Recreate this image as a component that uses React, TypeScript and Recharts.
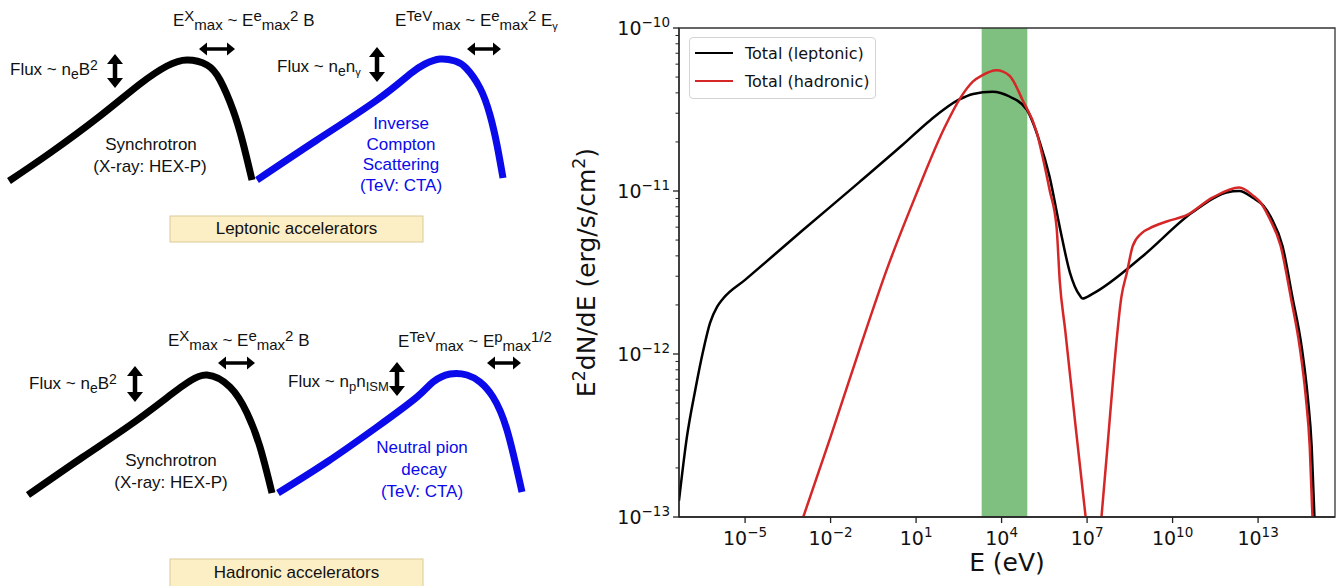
import React from 'react';
import { LineChart, Line, XAxis, YAxis, ReferenceArea, Legend, Label } from 'recharts';

// ---------- right panel: total SEDs, E (eV) vs E^2 dN/dE (erg/s/cm^2) ----------
const leptonicE = [
  4.8e-8, 9.1e-8, 1.78e-7, 3.4e-7, 5.9e-7, 1.05e-6, 1.7e-6, 1e-5, 1e-3, 0.1, 3.16, 31.6, 316, 1000,
  4800, 1.9e4, 7.6e4, 2.1e5, 4.8e5, 1.1e6, 2.5e6, 5.5e6, 6.9e6, 1.55e7, 8.9e8, 5.0e10, 7.8e11, 2.2e12,
  6.5e12, 1.55e13, 2.95e13, 7.2e13, 1.6e14, 3.4e14, 5.5e14, 7.6e14, 9.5e14,
];
const leptonicFlux = [
  1.26e-13, 3.1e-13, 6.0e-13, 1.05e-12, 1.55e-12, 1.95e-12, 2.19e-12, 2.85e-12, 5.7e-12, 1.13e-11,
  1.9e-11, 2.72e-11, 3.63e-11, 3.94e-11, 4.07e-11, 3.8e-11, 3.16e-11, 2.04e-11, 1.23e-11, 6.0e-12,
  3.16e-12, 2.29e-12, 2.19e-12, 2.34e-12, 3.98e-12, 7.4e-12, 9.8e-12, 1.0e-11, 9.1e-12, 8.1e-12,
  6.8e-12, 4.6e-12, 2.24e-12, 1.1e-12, 5.5e-13, 2.7e-13, 1.0e-13,
];
const hadronicE = [
  1.1e-3, 1e-2, 0.1, 1, 10, 100, 350, 1000, 2000, 6600, 1.9e4, 5.5e4, 1.7e5, 2.75e5, 4.8e5, 8.5e5,
  1.1e6, 1.7e6, 4.1e6, 8.9e6, 1.6e7, 3.2e7, 5.2e7, 9.1e7, 1.6e8, 2.5e8, 4e8, 8.1e8, 1.55e9, 6.2e9,
  3.1e10, 2.5e11, 2.2e12, 6.5e12, 1.35e13, 2.5e13, 6.2e13, 1.4e14, 2.9e14, 4.7e14, 6.5e14, 8.1e14,
];
// null = gap between the low-energy bump and the pion bump
const hadronicFlux = [
  1e-13, 3.1e-13, 1.05e-12, 3.4e-12, 9.5e-12, 2.45e-11, 3.7e-11, 4.7e-11, 5.1e-11, 5.5e-11, 5.1e-11,
  3.6e-11, 2.3e-11, 1.62e-11, 1.02e-11, 6.0e-12, 2.8e-12, 1.41e-12, 3.4e-13, 1e-13, null, 1e-13,
  2.7e-13, 8.7e-13, 2.24e-12, 3.16e-12, 4.6e-12, 5.5e-12, 5.9e-12, 6.5e-12, 7.1e-12, 9.1e-12,
  1.05e-11, 9.4e-12, 8.3e-12, 6.8e-12, 4.6e-12, 2.24e-12, 1.1e-12, 5.5e-13, 2.7e-13, 1e-13,
];
const seriesOrder = ['Total (leptonic)', 'Total (hadronic)'];

const xDomain = [4.8e-8, 5e15];
const yDomain = [1e-13, 1e-10];
const xMajorTicks = [1e-5, 1e-2, 1e1, 1e4, 1e7, 1e10, 1e13];
const yMajorTicks = [1e-13, 1e-12, 1e-11, 1e-10];
const yMinorTicks = yMajorTicks.slice(0, -1).flatMap((d) => [2, 3, 4, 5, 6, 7, 8, 9].map((k) => k * d));
const hexpBand = [2e3, 8e4]; // X-ray band shaded in green

// ---------- left panel: schematic spectra (panel pixel units, y down) ----------
const topSyncX = [9, 50, 100, 140, 167, 187, 207, 220, 233, 243, 252];
const topSyncY = [181, 153, 116, 84, 66, 60, 65, 80, 110, 143, 180];
const topIcX = [257, 317, 377, 410, 425, 440, 455, 466, 480, 490, 497, 503];
const topIcY = [180, 140, 100, 74, 64, 59, 61, 68, 88, 115, 145, 178];
const botSyncX = [28, 83, 133, 173, 190, 207, 230, 247, 260, 272];
const botSyncY = [495, 457, 423, 393, 381, 375, 387, 413, 447, 493];
const botPionX = [278, 327, 377, 417, 433, 450, 467, 480, 493, 507, 522];
const botPionY = [493, 462, 427, 397, 382, 374, 375, 382, 397, 430, 492];

const SANS = '"Liberation Sans", Arial, Helvetica, sans-serif';
const MPL = '"DejaVu Sans", sans-serif';
const BLUE = '#0a0aeb';

const zip = (xs: number[], ys: (number | null)[], kx: string, ky: string) =>
  xs.map((v, i) => ({ [kx]: v, [ky]: ys[i] }));

// text with inline sub/superscripts, segs = [text, 'sub'|'sup'?, size?]
function Formula({ x, y, segs, size = 17, small = 15, sup = 5, sub = 4, anchor = 'start', fill = '#111', family = SANS, rotate }: any) {
  let cur = 0;
  return (
    <text
      x={x}
      y={y}
      fontSize={size}
      fontFamily={family}
      fill={fill}
      textAnchor={anchor}
      transform={rotate ? `rotate(${rotate} ${x} ${y})` : undefined}
      style={{ whiteSpace: 'pre' }}
    >
      {segs.map(([t, k, s]: any, i: number) => {
        const target = k === 'sup' ? -sup : k === 'sub' ? sub : 0;
        const dy = target - cur;
        cur = target;
        return (
          <tspan key={i} dy={dy} fontSize={s || (k ? small : size)}>
            {t}
          </tspan>
        );
      })}
    </text>
  );
}

function DoubleArrow({ x1, y1, x2, y2, w = 3.5, hl = 8, hw = 13 }: any) {
  const L = Math.hypot(x2 - x1, y2 - y1);
  const ux = (x2 - x1) / L, uy = (y2 - y1) / L;
  const px = -uy, py = ux;
  const b1 = [x1 + ux * hl, y1 + uy * hl];
  const b2 = [x2 - ux * hl, y2 - uy * hl];
  const p = (b: number[], s: number) => `${b[0] + px * s},${b[1] + py * s}`;
  const pts = [
    `${x1},${y1}`, p(b1, hw / 2), p(b1, w / 2), p(b2, w / 2), p(b2, hw / 2), `${x2},${y2}`,
    p(b2, -hw / 2), p(b2, -w / 2), p(b1, -w / 2), p(b1, -hw / 2),
  ].join(' ');
  return <polygon points={pts} fill="#000" />;
}

const Centered = ({ x, y, children, fill = '#111' }: any) => (
  <text x={x} y={y} textAnchor="middle" fontSize={17} fontFamily={SANS} fill={fill}>
    {children}
  </text>
);

function Schematic() {
  const curves = [
    { id: 'ts', d: zip(topSyncX, topSyncY, 'x', 'y'), c: '#000' },
    { id: 'ti', d: zip(topIcX, topIcY, 'x', 'y'), c: BLUE },
    { id: 'bs', d: zip(botSyncX, botSyncY, 'x', 'y'), c: '#000' },
    { id: 'bp', d: zip(botPionX, botPionY, 'x', 'y'), c: BLUE },
  ];
  return (
    <div style={{ position: 'absolute', left: 0, top: 0, width: 580, height: 586 }}>
      <LineChart width={580} height={586} margin={{ top: 0, right: 0, bottom: 0, left: 0 }}>
        <XAxis dataKey="x" type="number" domain={[0, 580]} allowDataOverflow hide />
        <YAxis type="number" domain={[0, 586]} reversed allowDataOverflow hide />
        {curves.map((c) => (
          <Line
            key={c.id}
            data={c.d}
            dataKey="y"
            type="natural"
            stroke={c.c}
            strokeWidth={7}
            dot={false}
            activeDot={false}
            isAnimationActive={false}
          />
        ))}
      </LineChart>
      <svg width={580} height={586} style={{ position: 'absolute', left: 0, top: 0, pointerEvents: 'none' }}>
        {/* leptonic row */}
        <Formula x={10} y={75} small={14} segs={[['Flux ~ n'], ['e', 'sub'], ['B'], ['2', 'sup']]} />
        <Formula x={173} y={26} segs={[['E'], ['X', 'sup'], ['max', 'sub'], [' ~ E'], ['e', 'sup'], ['max', 'sub'], ['2', 'sup'], [' B']]} />
        <Formula x={395} y={26} segs={[['E'], ['TeV', 'sup'], ['max', 'sub'], [' ~ E'], ['e', 'sup'], ['max', 'sub'], ['2', 'sup'], [' E'], ['γ', 'sub', 11]]} />
        <Formula x={277} y={72} small={14} segs={[['Flux ~ n'], ['e', 'sub'], ['n'], ['γ', 'sub', 11]]} />
        <DoubleArrow x1={199} y1={49} x2={235} y2={49} />
        <DoubleArrow x1={467} y1={49} x2={501} y2={49} />
        <DoubleArrow x1={115} y1={54} x2={115} y2={88} w={4.5} hl={10} hw={16} />
        <DoubleArrow x1={377} y1={47} x2={377} y2={82} w={4.5} hl={10} hw={16} />
        <Centered x={151} y={150}>Synchrotron</Centered>
        <Centered x={150} y={172}>(X-ray: HEX-P)</Centered>
        <Centered x={401} y={129} fill={BLUE}>Inverse</Centered>
        <Centered x={401} y={149.5} fill={BLUE}>Compton</Centered>
        <Centered x={401} y={170} fill={BLUE}>Scattering</Centered>
        <Centered x={401} y={190.5} fill={BLUE}>(TeV: CTA)</Centered>
        <rect x={170} y={216} width={253} height={26} fill="#fcefc6" stroke="#dccb98" strokeWidth={1} />
        <Centered x={296.5} y={234}>Leptonic accelerators</Centered>

        {/* hadronic row */}
        <Formula x={29} y={389} small={14} segs={[['Flux ~ n'], ['e', 'sub'], ['B'], ['2', 'sup']]} />
        <Formula x={168} y={346} segs={[['E'], ['X', 'sup'], ['max', 'sub'], [' ~ E'], ['e', 'sup'], ['max', 'sub'], ['2', 'sup'], [' B']]} />
        <Formula x={398} y={347} segs={[['E'], ['TeV', 'sup'], ['max', 'sub'], [' ~ E'], ['p', 'sup'], ['max', 'sub'], ['1/2', 'sup']]} />
        <Formula x={288} y={387} small={13} segs={[['Flux ~ n'], ['p', 'sub'], ['n'], ['ISM', 'sub']]} />
        <DoubleArrow x1={218} y1={363} x2={255} y2={363} />
        <DoubleArrow x1={487} y1={363} x2={521} y2={363} />
        <DoubleArrow x1={135} y1={366} x2={135} y2={402} w={4.5} hl={10} hw={16} />
        <DoubleArrow x1={397} y1={362} x2={397} y2={396} w={4.5} hl={10} hw={16} />
        <Centered x={171} y={466}>Synchrotron</Centered>
        <Centered x={171} y={488}>(X-ray: HEX-P)</Centered>
        <Centered x={422} y={453} fill={BLUE}>Neutral pion</Centered>
        <Centered x={424} y={475} fill={BLUE}>decay</Centered>
        <Centered x={422} y={497} fill={BLUE}>(TeV: CTA)</Centered>
        <rect x={170} y={559} width={253} height={35} fill="#fcefc6" stroke="#dccb98" strokeWidth={1} />
        <Centered x={296.5} y={578}>Hadronic accelerators</Centered>
      </svg>
    </div>
  );
}

// ---------- SED chart pieces ----------
const power = (v: number) => {
  const e = Math.round(Math.log10(v));
  return (e < 0 ? '\u2212' : '') + Math.abs(e);
};

const XTick = ({ x, y, payload }: any) => (
  <text x={x} y={y + 20} textAnchor="middle" fontFamily={MPL} fontSize={19} fill="#111">
    <tspan>10</tspan>
    <tspan dy={-8} fontSize={13.5}>{power(payload.value)}</tspan>
  </text>
);

const YTick = ({ x, y, payload }: any) => {
  const lg = Math.log10(payload.value);
  const major = Math.abs(lg - Math.round(lg)) < 1e-6;
  const ax = x + 9; // axis line = label x + tickSize + tickMargin
  return (
    <g>
      <line x1={ax - (major ? 6 : 3.5)} x2={ax} y1={y} y2={y} stroke="#222" strokeWidth={major ? 1.3 : 1} />
      {major && (
        <text x={x} y={y + 7} textAnchor="end" fontFamily={MPL} fontSize={19} fill="#111">
          <tspan>10</tspan>
          <tspan dy={-8} fontSize={13.5}>{power(payload.value)}</tspan>
        </text>
      )}
    </g>
  );
};

const YTitle = ({ viewBox }: any) => (
  <Formula
    x={viewBox.x + 25}
    y={viewBox.y + viewBox.height / 2}
    rotate={-90}
    anchor="middle"
    family={MPL}
    size={25}
    small={17.5}
    sup={10}
    segs={[['E'], ['2', 'sup'], ['dN/dE (erg/s/cm'], ['2', 'sup'], [')']]}
  />
);

const XTitle = ({ viewBox }: any) => (
  <text x={viewBox.x + viewBox.width / 2} y={viewBox.y + 54} textAnchor="middle" fontFamily={MPL} fontSize={25} fill="#111">
    E (eV)
  </text>
);

const renderLegend = ({ payload }: any) => {
  const items = [...(payload || [])].sort((a: any, b: any) => seriesOrder.indexOf(a.value) - seriesOrder.indexOf(b.value));
  return (
    <div
      style={{
        border: '1px solid #d4d4d4',
        borderRadius: 4,
        background: 'rgba(255,255,255,0.8)',
        padding: '1px 6px 3px 5px',
        fontFamily: MPL,
        fontSize: 16,
        color: '#111',
        whiteSpace: 'nowrap',
      }}
    >
      {items.map((p: any) => (
        <div key={p.value} style={{ display: 'flex', alignItems: 'center', height: 28 }}>
          <span style={{ display: 'inline-block', width: 38, borderTop: `2.5px solid ${p.color}`, marginRight: 12 }} />
          <span>{p.value}</span>
        </div>
      ))}
    </div>
  );
};

function SedChart() {
  return (
    <div style={{ position: 'absolute', left: 570, top: 0 }}>
      <LineChart width={773} height={586} margin={{ top: 28, right: 8, bottom: 0, left: 0 }}>
        <ReferenceArea x1={hexpBand[0]} x2={hexpBand[1]} fill="#008000" fillOpacity={0.5} stroke="none" />
        <XAxis
          dataKey="e"
          type="number"
          scale="log"
          domain={xDomain}
          allowDataOverflow
          ticks={xMajorTicks}
          interval={0}
          height={69}
          tickSize={6}
          tickMargin={2}
          tick={XTick}
          axisLine={{ stroke: '#222', strokeWidth: 1.3 }}
          tickLine={{ stroke: '#222', strokeWidth: 1.3 }}
        >
          <Label content={XTitle} />
        </XAxis>
        <YAxis
          type="number"
          scale="log"
          domain={yDomain}
          allowDataOverflow
          ticks={[...yMajorTicks, ...yMinorTicks].sort((a, b) => a - b)}
          interval={0}
          width={109}
          tickSize={6}
          tickMargin={3}
          tickLine={false}
          tick={YTick}
          axisLine={{ stroke: '#222', strokeWidth: 1.3 }}
        >
          <Label content={YTitle} />
        </YAxis>
        <ReferenceArea x1={xDomain[0]} x2={xDomain[1]} y1={yDomain[0]} y2={yDomain[1]} fill="none" stroke="#333" strokeWidth={1.3} />
        <Legend
          layout="vertical"
          align="center"
          verticalAlign="middle"
          content={renderLegend}
          wrapperStyle={{ left: 119, top: 37, width: 'auto', height: 'auto' }}
        />
        <Line
          name="Total (leptonic)"
          data={zip(leptonicE, leptonicFlux, 'e', 'f')}
          dataKey="f"
          type="monotone"
          stroke="#000"
          strokeWidth={2.5}
          dot={false}
          activeDot={false}
          isAnimationActive={false}
        />
        <Line
          name="Total (hadronic)"
          data={zip(hadronicE, hadronicFlux, 'e', 'f')}
          dataKey="f"
          type="monotone"
          stroke="#d62728"
          strokeWidth={2.5}
          dot={false}
          activeDot={false}
          isAnimationActive={false}
        />
      </LineChart>
    </div>
  );
}

export default function App() {
  return (
    <div style={{ position: 'relative', width: 1343, height: 586, overflow: 'hidden', background: '#fff' }}>
      <style>{'body{margin:0}'}</style>
      <Schematic />
      <SedChart />
    </div>
  );
}
